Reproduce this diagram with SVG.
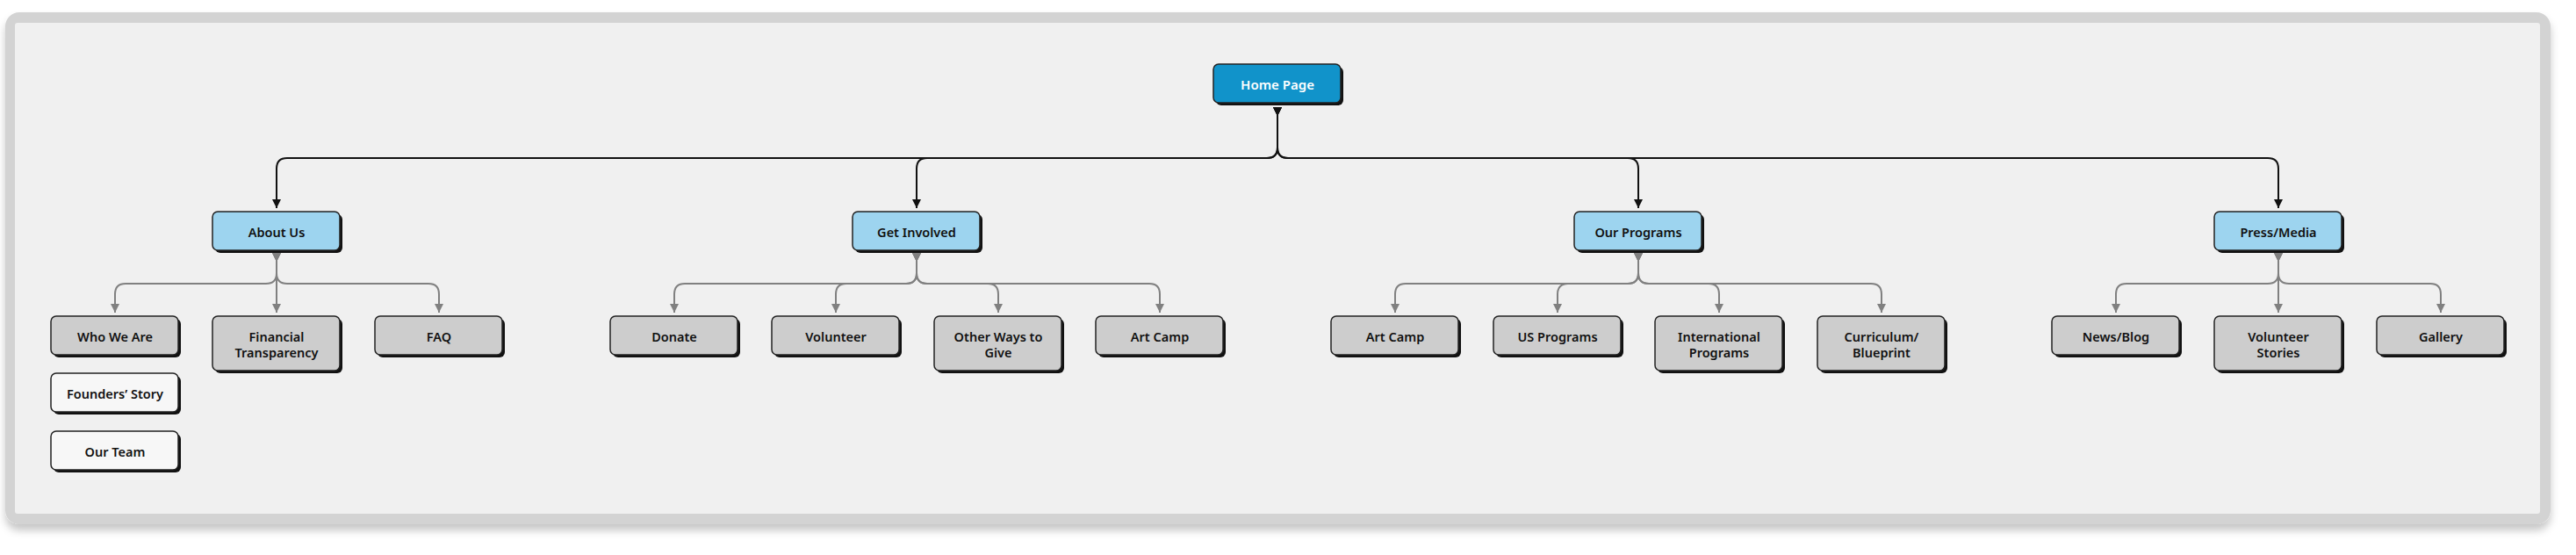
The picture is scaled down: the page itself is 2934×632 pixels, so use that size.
<svg xmlns="http://www.w3.org/2000/svg" width="2934" height="632" viewBox="0 0 2934 632">
<style>
.sh{fill:#111}
.box{stroke:#222;stroke-width:1.5}
.home{fill:#1193ca}
.l1{fill:#9dd4ef}
.l2{fill:#cdcdcd}
.lw{fill:#f7f7f7}
.t{font-family:"Noto Sans","Liberation Sans",sans-serif;font-size:14.5px;font-weight:600;fill:#111;text-anchor:middle;dominant-baseline:central}
.tw{fill:#fff;font-size:15px}
.cb{fill:none;stroke:#111;stroke-width:2;marker-start:url(#sb);marker-end:url(#eb)}
.cg{fill:none;stroke:#808080;stroke-width:2;marker-start:url(#sg);marker-end:url(#eg)}
</style>
<defs>
<filter id="fs" x="-2%" y="-5%" width="104%" height="115%">
<feDropShadow dx="0" dy="7" stdDeviation="5" flood-color="#000" flood-opacity="0.22"/>
</filter>
<marker id="sb" viewBox="0 0 10 10" refX="0" refY="5" markerWidth="5" markerHeight="5" orient="auto"><path d="M0,0 L10,5 L0,10 z" fill="#111"/></marker>
<marker id="eb" viewBox="0 0 10 10" refX="10" refY="5" markerWidth="5" markerHeight="5" orient="auto"><path d="M0,0 L10,5 L0,10 z" fill="#111"/></marker>
<marker id="sg" viewBox="0 0 10 10" refX="0" refY="5" markerWidth="5" markerHeight="5" orient="auto"><path d="M0,0 L10,5 L0,10 z" fill="#808080"/></marker>
<marker id="eg" viewBox="0 0 10 10" refX="10" refY="5" markerWidth="5" markerHeight="5" orient="auto"><path d="M0,0 L10,5 L0,10 z" fill="#808080"/></marker>
</defs>
<rect width="2934" height="632" fill="#ffffff"/>
<g id="frame">
<rect x="6" y="14" width="2899" height="583" rx="16" fill="#d3d3d3" filter="url(#fs)"/>
<rect x="17" y="26" width="2876" height="559" rx="3" fill="#f0f0f0"/>
</g>
<g id="connectors">
<path class="cb" d="M1455,122 V168 Q1455,180 1443,180 H327 Q315,180 315,192 V237"/>
<path class="cb" d="M1455,122 V168 Q1455,180 1443,180 H1056 Q1044,180 1044,192 V237"/>
<path class="cb" d="M1455,122 V168 Q1455,180 1467,180 H1854 Q1866,180 1866,192 V237"/>
<path class="cb" d="M1455,122 V168 Q1455,180 1467,180 H2583 Q2595,180 2595,192 V237"/>
<path class="cg" d="M315,288 V311 Q315,323 303,323 H143 Q131,323 131,335 V356"/>
<path class="cg" d="M315,288 V356"/>
<path class="cg" d="M315,288 V311 Q315,323 327,323 H488 Q500,323 500,335 V356"/>
<path class="cg" d="M1044,288 V311 Q1044,323 1032,323 H780 Q768,323 768,335 V356"/>
<path class="cg" d="M1044,288 V311 Q1044,323 1032,323 H964 Q952,323 952,335 V356"/>
<path class="cg" d="M1044,288 V311 Q1044,323 1056,323 H1125 Q1137,323 1137,335 V356"/>
<path class="cg" d="M1044,288 V311 Q1044,323 1056,323 H1309 Q1321,323 1321,335 V356"/>
<path class="cg" d="M1866,288 V311 Q1866,323 1854,323 H1601 Q1589,323 1589,335 V356"/>
<path class="cg" d="M1866,288 V311 Q1866,323 1854,323 H1786 Q1774,323 1774,335 V356"/>
<path class="cg" d="M1866,288 V311 Q1866,323 1878,323 H1946 Q1958,323 1958,335 V356"/>
<path class="cg" d="M1866,288 V311 Q1866,323 1878,323 H2131 Q2143,323 2143,335 V356"/>
<path class="cg" d="M2595,288 V311 Q2595,323 2583,323 H2422 Q2410,323 2410,335 V356"/>
<path class="cg" d="M2595,288 V356"/>
<path class="cg" d="M2595,288 V311 Q2595,323 2607,323 H2768 Q2780,323 2780,335 V356"/>
</g>
<g id="home"><rect class="sh" x="1385" y="76" width="145" height="44" rx="6"/><rect class="box home" x="1382" y="73" width="145" height="44" rx="6"/><text class="t tw" x="1455" y="96">Home Page</text></g>
<g id="about"><rect class="sh" x="245" y="244" width="145" height="44" rx="6"/><rect class="box l1" x="242" y="241" width="145" height="44" rx="6"/><text class="t" x="315" y="264">About Us</text></g>
<g id="involved"><rect class="sh" x="974" y="244" width="145" height="44" rx="6"/><rect class="box l1" x="971" y="241" width="145" height="44" rx="6"/><text class="t" x="1044" y="264">Get Involved</text></g>
<g id="programs"><rect class="sh" x="1796" y="244" width="145" height="44" rx="6"/><rect class="box l1" x="1793" y="241" width="145" height="44" rx="6"/><text class="t" x="1866" y="264">Our Programs</text></g>
<g id="press"><rect class="sh" x="2525" y="244" width="145" height="44" rx="6"/><rect class="box l1" x="2522" y="241" width="145" height="44" rx="6"/><text class="t" x="2595" y="264">Press/Media</text></g>
<g id="who"><rect class="sh" x="61" y="363" width="145" height="44" rx="6"/><rect class="box l2" x="58" y="360" width="145" height="44" rx="6"/><text class="t" x="131" y="383">Who We Are</text></g>
<g id="founders"><rect class="sh" x="61" y="428" width="145" height="44" rx="6"/><rect class="box lw" x="58" y="425" width="145" height="44" rx="6"/><text class="t" x="131" y="448">Founders’ Story</text></g>
<g id="team"><rect class="sh" x="61" y="494" width="145" height="44" rx="6"/><rect class="box lw" x="58" y="491" width="145" height="44" rx="6"/><text class="t" x="131" y="514">Our Team</text></g>
<g id="financial"><rect class="sh" x="245" y="363" width="145" height="62" rx="6"/><rect class="box l2" x="242" y="360" width="145" height="62" rx="6"/><text class="t" x="315" y="383">Financial</text><text class="t" x="315" y="400.5">Transparency</text></g>
<g id="faq"><rect class="sh" x="430" y="363" width="145" height="44" rx="6"/><rect class="box l2" x="427" y="360" width="145" height="44" rx="6"/><text class="t" x="500" y="383">FAQ</text></g>
<g id="donate"><rect class="sh" x="698" y="363" width="145" height="44" rx="6"/><rect class="box l2" x="695" y="360" width="145" height="44" rx="6"/><text class="t" x="768" y="383">Donate</text></g>
<g id="volunteer"><rect class="sh" x="882" y="363" width="145" height="44" rx="6"/><rect class="box l2" x="879" y="360" width="145" height="44" rx="6"/><text class="t" x="952" y="383">Volunteer</text></g>
<g id="otherways"><rect class="sh" x="1067" y="363" width="145" height="62" rx="6"/><rect class="box l2" x="1064" y="360" width="145" height="62" rx="6"/><text class="t" x="1137" y="383">Other Ways to</text><text class="t" x="1137" y="400.5">Give</text></g>
<g id="artcamp1"><rect class="sh" x="1251" y="363" width="145" height="44" rx="6"/><rect class="box l2" x="1248" y="360" width="145" height="44" rx="6"/><text class="t" x="1321" y="383">Art Camp</text></g>
<g id="artcamp2"><rect class="sh" x="1519" y="363" width="145" height="44" rx="6"/><rect class="box l2" x="1516" y="360" width="145" height="44" rx="6"/><text class="t" x="1589" y="383">Art Camp</text></g>
<g id="usprograms"><rect class="sh" x="1704" y="363" width="145" height="44" rx="6"/><rect class="box l2" x="1701" y="360" width="145" height="44" rx="6"/><text class="t" x="1774" y="383">US Programs</text></g>
<g id="intl"><rect class="sh" x="1888" y="363" width="145" height="62" rx="6"/><rect class="box l2" x="1885" y="360" width="145" height="62" rx="6"/><text class="t" x="1958" y="383">International</text><text class="t" x="1958" y="400.5">Programs</text></g>
<g id="curriculum"><rect class="sh" x="2073" y="363" width="145" height="62" rx="6"/><rect class="box l2" x="2070" y="360" width="145" height="62" rx="6"/><text class="t" x="2143" y="383">Curriculum/</text><text class="t" x="2143" y="400.5">Blueprint</text></g>
<g id="news"><rect class="sh" x="2340" y="363" width="145" height="44" rx="6"/><rect class="box l2" x="2337" y="360" width="145" height="44" rx="6"/><text class="t" x="2410" y="383">News/Blog</text></g>
<g id="stories"><rect class="sh" x="2525" y="363" width="145" height="62" rx="6"/><rect class="box l2" x="2522" y="360" width="145" height="62" rx="6"/><text class="t" x="2595" y="383">Volunteer</text><text class="t" x="2595" y="400.5">Stories</text></g>
<g id="gallery"><rect class="sh" x="2710" y="363" width="145" height="44" rx="6"/><rect class="box l2" x="2707" y="360" width="145" height="44" rx="6"/><text class="t" x="2780" y="383">Gallery</text></g>
</svg>
